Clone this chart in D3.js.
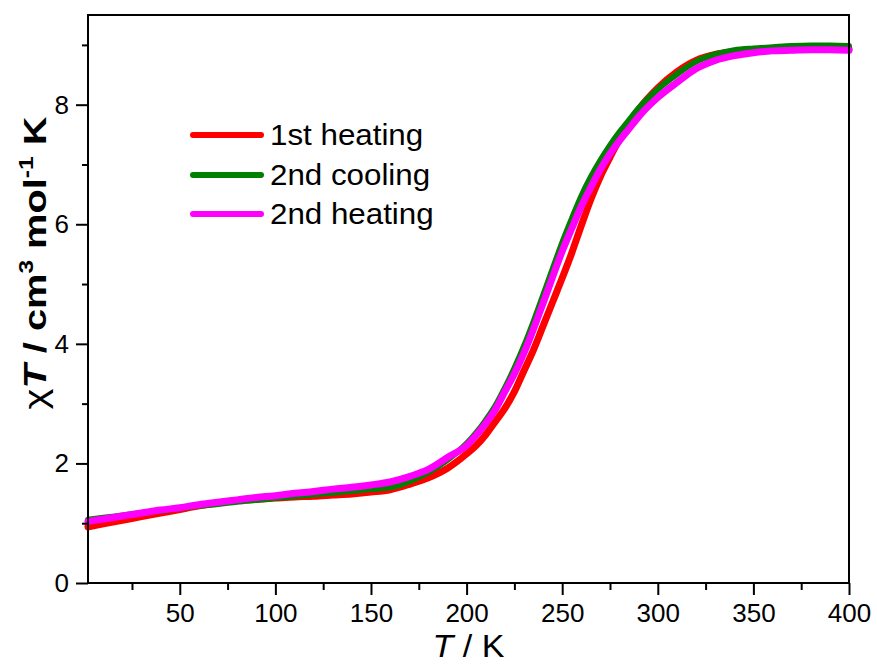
<!DOCTYPE html>
<html>
<head>
<meta charset="utf-8">
<script src="https://cdn.jsdelivr.net/npm/d3@7/dist/d3.min.js"></script>
<style>
  html, body { margin: 0; padding: 0; background: #fff; }
  svg { display: block; font-family: "Liberation Sans", Arial, Helvetica, sans-serif; }
</style>
</head>
<body>
<svg id="chart" width="877" height="664"></svg>
<script>
// Temperature grid (K) shared by all three runs
const temperature = [2, 10, 20, 30, 40, 50, 60, 70, 80, 90, 100, 110, 120, 130, 140, 150, 160, 170, 180, 190,
  200, 205, 210, 215, 220, 225, 230, 235, 240, 245, 250, 255, 260, 265, 270, 275, 280, 285, 290,
  300, 310, 320, 330, 340, 350, 360, 370, 380, 390, 400];

// chi*T (cm3 mol-1 K) for each run
const firstHeating = [0.94, 0.99, 1.05, 1.11, 1.17, 1.23, 1.29, 1.34, 1.38, 1.40, 1.42, 1.44, 1.45, 1.47, 1.49, 1.52, 1.56, 1.65, 1.76, 1.92,
  2.16, 2.30, 2.48, 2.70, 2.92, 3.20, 3.55, 3.90, 4.30, 4.70, 5.10, 5.52, 5.98, 6.42, 6.80, 7.12, 7.42, 7.68, 7.92,
  8.28, 8.55, 8.74, 8.84, 8.89, 8.92, 8.94, 8.95, 8.95, 8.94, 8.93];

const secondCooling = [1.06, 1.09, 1.13, 1.17, 1.21, 1.25, 1.29, 1.32, 1.36, 1.39, 1.42, 1.45, 1.48, 1.51, 1.54, 1.57, 1.60, 1.70, 1.85, 2.06,
  2.33, 2.51, 2.72, 2.96, 3.26, 3.59, 3.96, 4.37, 4.81, 5.25, 5.69, 6.09, 6.47, 6.79, 7.07, 7.32, 7.54, 7.74, 7.94,
  8.26, 8.51, 8.72, 8.84, 8.91, 8.94, 8.96, 8.98, 8.99, 8.99, 8.98];

const secondHeating = [1.03, 1.07, 1.12, 1.17, 1.22, 1.26, 1.31, 1.35, 1.39, 1.43, 1.46, 1.50, 1.53, 1.57, 1.60, 1.64, 1.69, 1.78, 1.90, 2.10,
  2.30, 2.47, 2.67, 2.90, 3.20, 3.50, 3.85, 4.25, 4.68, 5.12, 5.55, 5.93, 6.30, 6.62, 6.92, 7.18, 7.40, 7.60, 7.80,
  8.12, 8.37, 8.60, 8.74, 8.82, 8.87, 8.90, 8.91, 8.92, 8.92, 8.91];

const seriesNames = ["1st heating", "2nd cooling", "2nd heating"];
const seriesColors = ["#ff0000", "#007f00", "#ff00ff"];
const seriesWidths = [7, 6, 7];

const xMajorTicks = [50, 100, 150, 200, 250, 300, 350, 400];
const xMinorTicks = [25, 75, 125, 175, 225, 275, 325, 375];
const yMajorTicks = [0, 2, 4, 6, 8];
const yMinorTicks = [1, 3, 5, 7, 9];

const width = 877, height = 664;
const margin = { top: 15, right: 28, bottom: 81, left: 88 };
const svg = d3.select("#chart");

const x = d3.scaleLinear().domain([2, 400]).range([margin.left, width - margin.right]);
const y = d3.scaleLinear().domain([0, 9.5]).range([height - margin.bottom, margin.top]);

const series = [firstHeating, secondCooling, secondHeating].map((vals, i) => ({
  name: seriesNames[i],
  color: seriesColors[i],
  width: seriesWidths[i],
  points: temperature.map((t, j) => [t, vals[j]])
}));

// Curves
const line = d3.line().x(d => x(d[0])).y(d => y(d[1])).curve(d3.curveMonotoneX);
svg.append("g").selectAll("path")
  .data(series)
  .join("path")
  .attr("d", d => line(d.points))
  .attr("fill", "none")
  .attr("stroke", d => d.color)
  .attr("stroke-width", d => d.width)
  .attr("stroke-linejoin", "round")
  .attr("stroke-linecap", "round");

// Axes
const tickFont = 26;
const xAxis = svg.append("g")
  .attr("transform", `translate(0,${height - margin.bottom})`)
  .call(d3.axisBottom(x).tickValues(xMajorTicks).tickSize(12).tickSizeOuter(0).tickPadding(9));
const xMinor = svg.append("g")
  .attr("transform", `translate(0,${height - margin.bottom})`)
  .call(d3.axisBottom(x).tickValues(xMinorTicks).tickSize(7).tickSizeOuter(0).tickFormat(""));
const yAxis = svg.append("g")
  .attr("transform", `translate(${margin.left},0)`)
  .call(d3.axisLeft(y).tickValues(yMajorTicks).tickSize(12).tickSizeOuter(0).tickPadding(7));
const yMinor = svg.append("g")
  .attr("transform", `translate(${margin.left},0)`)
  .call(d3.axisLeft(y).tickValues(yMinorTicks).tickSize(6).tickSizeOuter(0).tickFormat(""));

[xAxis, xMinor, yAxis, yMinor].forEach(g => {
  g.select(".domain").remove();
  g.selectAll(".tick line").attr("stroke", "#000").attr("stroke-width", 2);
  g.selectAll(".tick text").attr("font-size", tickFont).attr("fill", "#000")
    .attr("font-family", "'Liberation Sans', Arial, sans-serif");
});

// Frame
svg.append("rect")
  .attr("x", margin.left).attr("y", margin.top)
  .attr("width", width - margin.left - margin.right)
  .attr("height", height - margin.top - margin.bottom)
  .attr("fill", "none").attr("stroke", "#000").attr("stroke-width", 2);

// X axis title
const xt = svg.append("text")
  .attr("transform", `translate(${(margin.left + width - margin.right) / 2},657) scale(1.1,1)`)
  .attr("text-anchor", "middle")
  .attr("font-size", 31);
xt.append("tspan").attr("font-style", "italic").text("T");
xt.append("tspan").text(" / K");

// Y axis title (slightly stretched along its length)
const yt = svg.append("text")
  .attr("transform", `translate(46,263) rotate(-90) scale(1.17,0.92)`)
  .attr("text-anchor", "middle")
  .attr("font-size", 34)
  .attr("font-weight", "bold");
yt.append("tspan").attr("font-weight", "normal").text("χ");
yt.append("tspan").attr("font-style", "italic").text("T");
yt.append("tspan").text(" / cm");
yt.append("tspan").attr("font-size", 21).attr("dy", -14).text("3");
yt.append("tspan").attr("dy", 14).text(" mol");
yt.append("tspan").attr("font-size", 21).attr("dy", -14).text("-1");
yt.append("tspan").attr("dy", 14).text(" K");

// Legend
const legendY = [135, 175, 214];
const legend = svg.append("g");
series.forEach((s, i) => {
  legend.append("line")
    .attr("x1", 193).attr("x2", 261)
    .attr("y1", legendY[i]).attr("y2", legendY[i])
    .attr("stroke", s.color).attr("stroke-width", 6).attr("stroke-linecap", "round");
  legend.append("text")
    .attr("transform", `translate(270,${legendY[i]}) scale(1.08,1)`)
    .attr("dy", "0.35em")
    .attr("font-size", 29)
    .text(s.name);
});
</script>
</body>
</html>
